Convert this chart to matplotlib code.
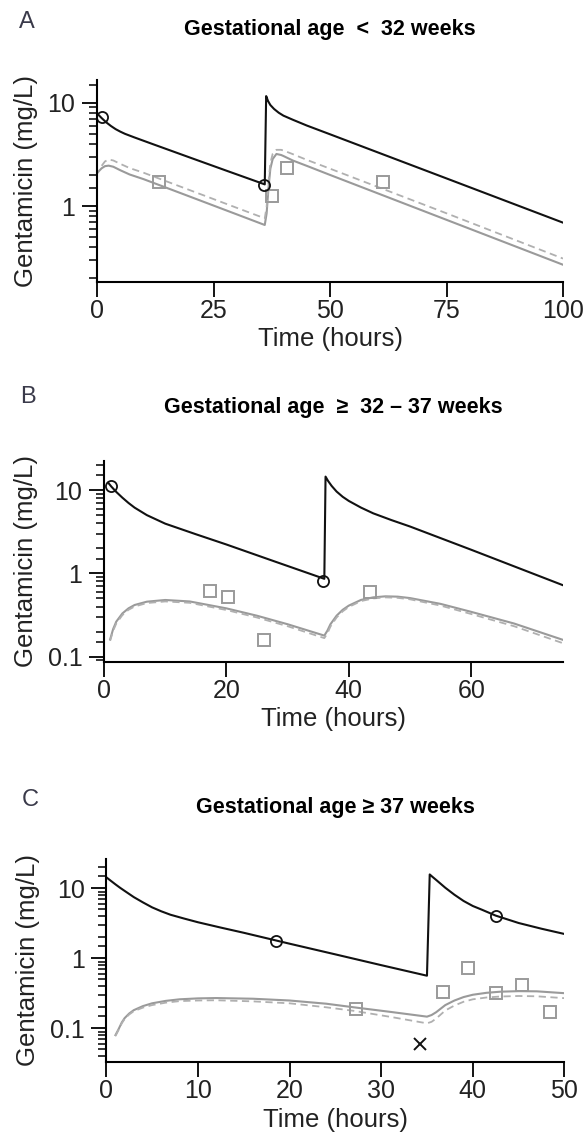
#-*- coding: utf-8 -*-

"""
  Gentamicin concentration vs time, three gestational age groups
"""

import numpy as np
import matplotlib.pyplot as plt
from matplotlib.ticker import FixedLocator, NullFormatter

plt.rcParams['font.family'] = ['Liberation Sans', 'DejaVu Sans']


# Panel A: gestational age < 32 weeks
a_black_t = [0, 1, 2, 3, 4, 5, 6, 8, 12, 20, 28, 36,
             36.3, 36.7, 37.2, 38, 39, 40, 42, 45, 50, 75, 100]
a_black_c = [7.9, 7.1, 6.45, 5.95, 5.55, 5.25, 5.0, 4.62, 3.97, 2.94, 2.18, 1.62,
             11.6, 10.4, 9.5, 8.7, 8.0, 7.5, 6.85, 6.02, 4.95, 1.85, 0.69]
a_gray_t = [0, 0.5, 1, 1.7, 2.5, 3.5, 5, 7, 10, 20, 30, 36,
            36.4, 36.8, 37.2, 37.7, 38.5, 39.5, 40, 42, 45, 50, 75, 100]
a_gray_c = [2.07, 2.2, 2.32, 2.43, 2.46, 2.4, 2.22, 2.02, 1.82, 1.23, 0.83, 0.655,
            0.85, 1.5, 2.3, 2.85, 3.19, 3.12, 3.05, 2.76, 2.45, 2.0, 0.735, 0.27]
a_dash_t = [1, 1.7, 2.5, 3.5, 5, 7, 10, 20, 30, 36,
            36.4, 36.8, 37.2, 37.7, 38.5, 39.5, 40, 42, 45, 50, 75, 100]
a_dash_c = [2.45, 2.7, 2.82, 2.76, 2.56, 2.33, 2.1, 1.42, 0.96, 0.76,
            0.98, 1.7, 2.6, 3.2, 3.5, 3.5, 3.45, 3.18, 2.8, 2.3, 0.85, 0.31]
a_sq_t = [13.4, 37.6, 40.7, 61.4]
a_sq_c = [1.72, 1.25, 2.32, 1.70]
a_circ_t = [1.1, 35.8]
a_circ_c = [7.2, 1.58]

# Panel B: gestational age >= 32 - 37 weeks
b_black_t = [0.7, 1.2, 2, 3, 4, 5, 7, 10, 15, 20, 28, 36,
             36.2, 36.6, 37.2, 38, 39, 40, 42, 44, 47, 50, 60, 75]
b_black_c = [12.2, 11.0, 9.5, 8.1, 7.0, 6.15, 5.0, 3.95, 2.95, 2.22, 1.38, 0.86,
             14.5, 12.9, 11.2, 9.6, 8.3, 7.4, 6.15, 5.25, 4.35, 3.65, 1.92, 0.72]
b_gray_t = [1, 1.5, 2, 3, 4, 5, 7, 10, 14, 20, 25, 30, 36,
            36.5, 37, 38, 39, 40, 42, 44, 46, 48, 50, 55, 60, 67, 75]
b_gray_c = [0.161, 0.215, 0.263, 0.33, 0.38, 0.417, 0.457, 0.479, 0.46, 0.38, 0.31, 0.245, 0.179,
            0.205, 0.245, 0.31, 0.365, 0.41, 0.48, 0.515, 0.53, 0.525, 0.505, 0.43, 0.345, 0.25, 0.159]
b_dash_t = b_gray_t
b_dash_c = [0.155, 0.205, 0.25, 0.315, 0.365, 0.40, 0.44, 0.46, 0.443, 0.363, 0.295, 0.232, 0.167,
            0.19, 0.23, 0.295, 0.35, 0.395, 0.465, 0.5, 0.515, 0.508, 0.488, 0.41, 0.325, 0.232, 0.145]
b_sq_t = [17.4, 20.2, 26.1, 43.5]
b_sq_c = [0.62, 0.525, 0.16, 0.59]
b_circ_t = [1.2, 35.8]
b_circ_c = [11.2, 0.80]

# Panel C: gestational age >= 37 weeks
c_black_t = [0, 0.5, 1, 1.5, 2, 3, 4, 5, 6, 7, 8.5, 10, 12.5, 15, 20, 25, 30, 35,
             35.3, 35.6, 36, 37, 38, 39, 40, 41, 42.5, 45, 47.5, 50]
c_black_c = [14.4, 12.8, 11.4, 10.2, 9.2, 7.5, 6.3, 5.35, 4.7, 4.2, 3.7, 3.28, 2.75, 2.32, 1.62, 1.14, 0.80, 0.565,
             15.8, 14.6, 13.2, 10.2, 8.1, 6.6, 5.6, 4.95, 4.08, 3.2, 2.65, 2.23]
c_gray_t = [1, 1.3, 1.7, 2, 2.5, 3, 4, 5, 6.5, 8, 10, 12, 16, 20, 24, 27, 31, 35,
            35.5, 36, 37, 38, 39, 40, 41.5, 43, 45, 47, 50]
c_gray_c = [0.080, 0.095, 0.122, 0.140, 0.163, 0.182, 0.208, 0.228, 0.247, 0.26, 0.268, 0.271, 0.265,
            0.25, 0.225, 0.2, 0.172, 0.147,
            0.155, 0.17, 0.215, 0.25, 0.28, 0.302, 0.322, 0.334, 0.34, 0.338, 0.318]
c_dash_t = c_gray_t
c_dash_c = [0.078, 0.093, 0.119, 0.136, 0.158, 0.176, 0.198, 0.215, 0.233, 0.245, 0.25, 0.252, 0.243,
            0.228, 0.2, 0.178, 0.146, 0.118,
            0.124, 0.138, 0.18, 0.212, 0.24, 0.26, 0.276, 0.285, 0.29, 0.287, 0.27]
c_sq_t = [27.2, 36.7, 39.5, 42.5, 45.4, 48.4]
c_sq_c = [0.187, 0.33, 0.74, 0.316, 0.42, 0.173]
c_circ_t = [18.5, 42.5]
c_circ_c = [1.77, 4.0]
c_x_t = [34.2]
c_x_c = [0.059]

titles = ['Gestational age  <  32 weeks',
          'Gestational age  \u2265  32 \u2013 37 weeks',
          'Gestational age \u2265 37 weeks']
letters = ['A', 'B', 'C']
minor_subs = [1.5, 2, 3, 4, 5, 6, 7, 8, 9]


W, H = 587, 1138
fig = plt.figure(figsize=(W/100, H/100), dpi=100)
TXT = '#222222'


def make_axes(left, right, top, bottom):
	return fig.add_axes([left/W, 1-bottom/H, (right-left)/W, (bottom-top)/H])


def style(ax, xmax, xticks, ylim, yticks, ylabs, ylab_x, title, tpad):
	ax.set_yscale('log')
	ax.set_xlim(0, xmax)
	ax.set_ylim(*ylim)
	ax.set_xticks(xticks)
	ax.set_xticklabels([str(v) for v in xticks])
	ax.set_yticks(yticks)
	ax.set_yticklabels(ylabs)
	# minor ticks on every decade
	minor = [m*10.0**e for e in range(-2, 2) for m in minor_subs]
	minor = [v for v in minor if ylim[0] <= v <= ylim[1]]
	ax.yaxis.set_minor_locator(FixedLocator(minor))
	ax.yaxis.set_minor_formatter(NullFormatter())
	for s in ['top', 'right']:
		ax.spines[s].set_visible(False)
	for s in ['left', 'bottom']:
		ax.spines[s].set_linewidth(1.5)
	ax.tick_params(axis='x', which='major', direction='out', length=10.5, width=1.3,
	               labelsize=18, pad=2, labelcolor=TXT)
	ax.tick_params(axis='y', which='major', direction='out', length=10.5, width=1.3,
	               labelsize=18, pad=5, labelcolor=TXT)
	ax.tick_params(axis='y', which='minor', direction='out', length=5.8, width=1.1)
	ax.set_xlabel('Time (hours)', fontsize=18.5, color=TXT)
	ax.xaxis.set_label_coords(0.5, -0.227)
	ax.set_ylabel('Gentamicin (mg/L)', fontsize=18.5, color=TXT)
	ax.yaxis.set_label_coords(ylab_x, 0.5)
	ax.set_title(title, fontsize=15.5, fontweight='bold', pad=tpad)


def curves(ax, bt, bc, gt, gc, dt, dc, st, sc, ct, cc):
	ax.plot(gt, gc, '-', color='#9a9a9a', lw=1.5)
	ax.plot(dt, dc, '--', color='#b0b0b0', lw=1.3, dashes=(4, 2.5))
	ax.plot(st, sc, 's', mfc='none', mec='#9a9a9a', mew=1.4, ms=8)
	ax.plot(bt, bc, '-', color='#111111', lw=1.5)
	ax.plot(ct, cc, 'o', mfc='none', mec='#111111', mew=1.3, ms=8)


# Plots
axA = make_axes(97, 563, 80, 281.7)
curves(axA, a_black_t, a_black_c, a_gray_t, a_gray_c, a_dash_t, a_dash_c,
       a_sq_t, a_sq_c, a_circ_t, a_circ_c)
style(axA, 100, [0, 25, 50, 75, 100], (0.185, 16.6), [1, 10], ['1', '10'],
      (38-97)/466, titles[0], 32.7)

axB = make_axes(104, 563, 460.7, 661.7)
curves(axB, b_black_t, b_black_c, b_gray_t, b_gray_c, b_dash_t, b_dash_c,
       b_sq_t, b_sq_c, b_circ_t, b_circ_c)
style(axB, 75, [0, 20, 40, 60], (0.087, 22.5), [0.1, 1, 10], ['0.1', '1', '10'],
      (38-104)/459, titles[1], 34.3)

axC = make_axes(106.3, 564.4, 859.3, 1061.7)
curves(axC, c_black_t, c_black_c, c_gray_t, c_gray_c, c_dash_t, c_dash_c,
       c_sq_t, c_sq_c, c_circ_t, c_circ_c)
axC.plot(c_x_t, c_x_c, 'x', color='#111111', mew=1.4, ms=8)
style(axC, 50, [0, 10, 20, 30, 40, 50], (0.0334, 26), [0.1, 1, 10], ['0.1', '1', '10'],
      (40-106.3)/458.1, titles[2], 33.3)

# Panel letters
for lab, (px, py) in zip(letters, [(26.5, 21.5), (28, 396.7), (30, 800)]):
	fig.text(px/W, 1-py/H, lab, fontsize=17, color='#3a3a4a', ha='center', va='center')

plt.savefig('out.png', dpi=100)
